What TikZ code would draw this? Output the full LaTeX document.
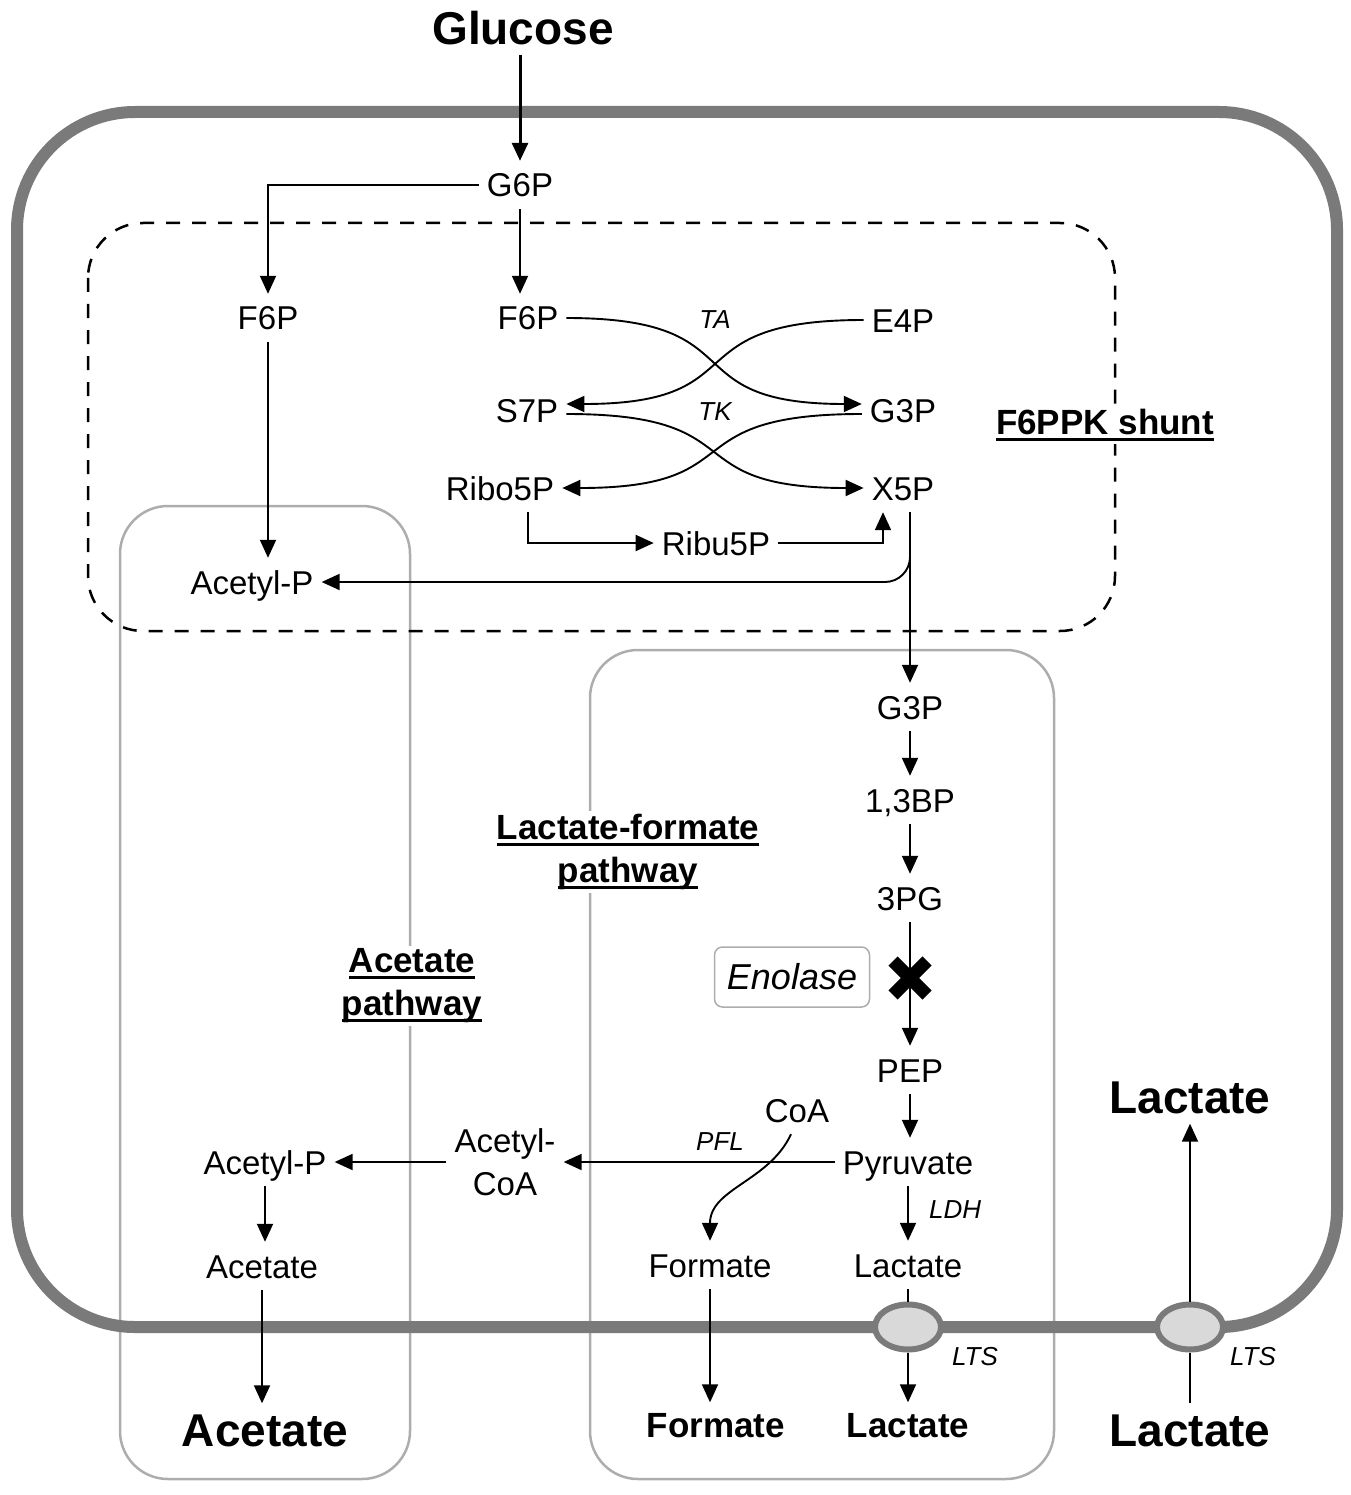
\documentclass[tikz,border=0pt]{standalone}
\usepackage{fontspec}
\setmainfont{Liberation Sans}
\usetikzlibrary{arrows.meta}
\usetikzlibrary{positioning}
\usetikzlibrary{shapes.geometric}

\definecolor{wallgray}{HTML}{7A7A7A}
\definecolor{boxgray}{HTML}{ADADAD}
\definecolor{portfill}{HTML}{D9D9D9}

\newcommand{\ulbold}[1]{\setbox0=\hbox{#1}\rlap{\rule[-6pt]{\wd0}{2.8pt}}\box0}

\tikzset{
 met/.style={font=\fontsize{33}{43}\selectfont, inner xsep=8pt, inner ysep=12pt, text height=24pt, text depth=0pt},
 metout/.style={font=\bfseries\fontsize{46}{50}\selectfont, inner xsep=6pt, inner ysep=10pt, text height=33pt, text depth=0pt},
 metmid/.style={font=\bfseries\fontsize{35}{40}\selectfont, inner xsep=6pt, inner ysep=10pt, text height=25pt, text depth=0pt},
 enz/.style={font=\itshape\fontsize{26}{30}\selectfont, inner sep=1pt},
 pathlabel/.style={font=\bfseries\fontsize{35}{43}\selectfont, align=center, fill=white, inner sep=3pt},
 flux/.style={line width=1.9pt, -{Triangle[length=18pt,width=16pt]}},
 cellwall/.style={draw=wallgray, line width=12pt, rounded corners=118pt},
 pathbox/.style={draw=boxgray, line width=2.5pt, rounded corners=48pt},
 shunt/.style={draw, line width=2.5pt, dash pattern=on 14pt off 12pt, rounded corners=55pt},
 port/.style={ellipse, draw=wallgray, fill=portfill, line width=6pt, minimum width=66pt, minimum height=45pt, inner sep=0pt},
}

\begin{document}
\begin{tikzpicture}[x=1pt,y=-1pt]
 \useasboundingbox (0,0) rectangle (1350,1495);

 % compartments
 \draw[pathbox] (120,506) rectangle (410,1479);
 \draw[pathbox] (590,650) rectangle (1054,1479);
 \draw[shunt]   (88,223)  rectangle (1115,631);
 \draw[cellwall] (17,112) rectangle (1337,1327);

 % metabolites
 \node[metout,name=glc]  at (523,28)   {Glucose};
 \node[met,name=g6p]     at (520,185)  {G6P};
 \node[met,name=f6pa]    at (268,318)  {F6P};
 \node[met,name=f6pb]    at (528,318)  {F6P};
 \node[met,name=e4p]     at (903,320)  {E4P};
 \node[met,name=s7p]     at (527,410)  {S7P};
 \node[met,name=g3pa]    at (903,410)  {G3P};
 \node[met,name=ribo]    at (500,488)  {Ribo5P};
 \node[met,name=x5p]     at (903,488)  {X5P};
 \node[met,name=ribu]    at (716,543)  {Ribu5P};
 \node[met,name=acpa]    at (252,582)  {Acetyl-P};

 \node[met,name=g3pb]    at (910,707)  {G3P};
 \node[met,name=bpg]     at (910,800)  {1,3BP};
 \node[met,name=pg3]     at (910,898)  {3PG};
 \node[met,name=pep]     at (910,1070) {PEP};
 \node[met,name=pyr]     at (908,1162) {Pyruvate};
 \node[met,name=coa]     at (797,1110) {CoA};
 \node[met,name=accoa,text height=,text depth=,align=center] at (505,1162) {Acetyl-\\CoA};
 \node[met,name=acpb]    at (265,1162) {Acetyl-P};
 \node[met,name=form]    at (710,1265) {Formate};
 \node[met,name=lacin]   at (908,1265) {Lactate};
 \node[met,name=acet]    at (262,1266) {Acetate};

 \node[metout,name=acetout] at (265,1430)  {Acetate};
 \node[metmid,name=formout] at (716,1425)  {Formate};
 \node[metmid,name=lacout]  at (908,1425)  {Lactate};
 \node[metout,name=lacext]  at (1190,1430) {Lactate};
 \node[metout,name=lacext2] at (1190,1097) {Lactate};

 % enzymes and pathway labels
 \node[enz] at (715,320)  {TA};
 \node[enz] at (715,412)  {TK};
 \node[enz] at (720,1142) {PFL};
 \node[enz,anchor=west] at (928,1210) {LDH};
 \node[enz] at (975,1357)  {LTS};
 \node[enz] at (1253,1357) {LTS};
 \node[name=enol, draw=boxgray, line width=1.5pt, rounded corners=8pt, minimum width=155pt, minimum height=60pt, font=\itshape\fontsize{36}{40}\selectfont] at (792,977) {Enolase};

 \node[pathlabel,name=shuntlbl] at (1105,425) {\ulbold{F6PPK shunt}};
 \node[pathlabel,name=lfplbl]   at (628,852)  {\ulbold{Lactate-formate}\\\ulbold{pathway}};
 \node[pathlabel,name=acplbl]   at (412,986)  {\ulbold{Acetate}\\\ulbold{pathway}};

 % reactions
 \draw[flux,line width=3pt] (glc.south -| g6p.north) -- (g6p.north);
 \draw[flux] (g6p.west) -| (f6pa.north);
 \draw[flux] (g6p.south) -- (g6p.south |- f6pb.north);
 \draw[flux] (f6pa.south) -- (f6pa.south |- acpa.north);

 \draw[flux] (f6pb.east) to[out=0,in=180,looseness=1.6] ([yshift=6pt]g3pa.west);
 \draw[flux] (e4p.west)  to[out=180,in=0,looseness=1.6] ([yshift=6pt]s7p.east);
 \draw[flux] ([yshift=-4pt]s7p.east)  to[out=0,in=180,looseness=1.6] (x5p.west);
 \draw[flux] ([yshift=-4pt]g3pa.west) to[out=180,in=0,looseness=1.6] (ribo.east);

 \draw[flux] ([xshift=28pt]ribo.south) |- (ribu.west);
 \draw[flux] (ribu.east) -| ([xshift=-20pt]x5p.south);
 \draw[flux,rounded corners=25pt] (x5p.south -| g3pb.north) |- (acpa.east);
 \draw[flux] (x5p.south -| g3pb.north) -- (g3pb.north);

 \draw[flux] (g3pb) -- (bpg);
 \draw[flux] (bpg) -- (pg3);
 \draw[flux] (pg3) -- (pep);
 \draw[flux] (pep.south) -- (pep.south |- pyr.north);
 \draw[flux] (pyr.south) -- (pyr.south |- lacin.north);

 \coordinate (blk) at (910,978);
 \draw[line width=13pt] ([shift={(-17pt,-17pt)}]blk) -- ([shift={(17pt,17pt)}]blk);
 \draw[line width=13pt] ([shift={(-17pt,17pt)}]blk) -- ([shift={(17pt,-17pt)}]blk);

 \draw[flux] (pyr.west) -- (accoa.east);
 \draw[flux] ([xshift=-6pt]coa.south) to[out=-115,in=90] (form.north);
 \draw[flux] (accoa.west) -- (acpb.east);
 \draw[flux] (acpb.south) -- (acpb.south |- acet.north);
 \draw[flux] (acet.south) -- (acet.south |- acetout.north);
 \draw[flux] (form.south) -- (form.south |- formout.north);

 % lactate transporters
 \node[port,name=ell1] at (908,1327)  {};
 \node[port,name=ell2] at (1190,1327) {};
 \draw[line width=1.9pt] (lacin.south) -- (ell1.north);
 \draw[flux] (ell1.south) -- (lacout.north);
 \draw[line width=1.9pt] (lacext.north) -- (ell2.south);
 \draw[flux] (ell2.north) -- (lacext2.south);

\end{tikzpicture}
\end{document}
